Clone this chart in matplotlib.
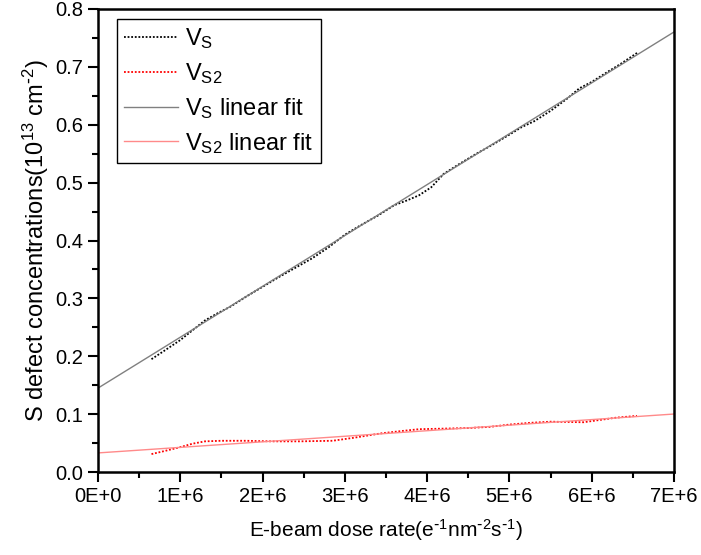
import matplotlib
matplotlib.use("Agg")
import matplotlib.pyplot as plt
import numpy as np
from matplotlib.ticker import MultipleLocator, FixedLocator

plt.rcParams['font.family'] = ['Liberation Sans', 'DejaVu Sans']
plt.rcParams['mathtext.default'] = 'regular'

# data (x in units of 1E+6 e^-1 nm^-2 s^-1)
vs_x = [0.65, 0.8, 1.0, 1.15, 1.3, 1.45, 1.6, 1.8, 2.0, 2.2, 2.4, 2.6, 2.8, 3.0, 3.2,
        3.4, 3.6, 3.75, 3.9, 4.05, 4.2, 4.4, 4.6, 4.8, 5.0, 5.15, 5.3, 5.5, 5.7, 5.85,
        6.0, 6.2, 6.35, 6.55]
vs_y = [0.195, 0.209, 0.228, 0.245, 0.262, 0.274, 0.285, 0.303, 0.320, 0.337, 0.353,
        0.369, 0.388, 0.410, 0.427, 0.443, 0.461, 0.469, 0.478, 0.492, 0.515, 0.533,
        0.550, 0.566, 0.583, 0.596, 0.606, 0.624, 0.645, 0.663, 0.674, 0.692, 0.705,
        0.724]

vs2_x = [0.65, 0.8, 1.0, 1.15, 1.3, 1.5, 1.8, 2.1, 2.45, 2.85, 3.1, 3.45, 3.7, 3.9,
         4.2, 4.5, 4.76, 5.0, 5.25, 5.5, 5.9, 6.1, 6.3, 6.55]
vs2_y = [0.031, 0.036, 0.043, 0.049, 0.053, 0.054, 0.054, 0.053, 0.053, 0.054, 0.059,
         0.067, 0.071, 0.074, 0.075, 0.076, 0.078, 0.082, 0.085, 0.087, 0.086, 0.090,
         0.094, 0.097]

# linear fits: intercept, slope (per 1E+6)
vs_fit = (0.145, 0.0879)
vs2_fit = (0.033, 0.0096)
fit_range = [0.0, 7.0]

xtick_vals = [0, 1, 2, 3, 4, 5, 6, 7]
xtick_labels = ["0E+0", "1E+6", "2E+6", "3E+6", "4E+6", "5E+6", "6E+6", "7E+6"]

fig = plt.figure(figsize=(7.01, 5.55), dpi=100)
ax = fig.add_axes([0.1398, 0.1495, 0.8217, 0.8343])

ax.plot(vs_x, vs_y, linestyle=(0, (1, 1)), color='black', lw=1.3, label='V$_S$')
ax.plot(vs2_x, vs2_y, linestyle=(0, (1, 1)), color='red', lw=1.3, label='V$_{S2}$')
fx = np.array(fit_range)
ax.plot(fx, vs_fit[0] + vs_fit[1] * fx, color='#808080', lw=1.0, label='V$_S$ linear fit')
ax.plot(fx, vs2_fit[0] + vs2_fit[1] * fx, color='#ff8a8a', lw=1.0, label='V$_{S2}$ linear fit')

ax.set_xlim(0, 7)
ax.set_ylim(0, 0.8)
ax.xaxis.set_major_locator(FixedLocator(xtick_vals))
ax.set_xticklabels(xtick_labels)
ax.xaxis.set_minor_locator(MultipleLocator(0.5))
ax.yaxis.set_major_locator(MultipleLocator(0.1))
ax.yaxis.set_minor_locator(MultipleLocator(0.05))
ax.yaxis.set_major_formatter(plt.FormatStrFormatter('%.1f'))

ax.tick_params(which='both', direction='out', top=False, right=False, width=1.5,
               labelsize=14.5, colors='black')
ax.tick_params(which='major', length=7)
ax.tick_params(which='minor', length=4)
for s in ax.spines.values():
    s.set_linewidth(1.8)

ax.set_xlabel('E-beam dose rate(e$^{\\text{-}1}$nm$^{\\text{-}2}$s$^{\\text{-}1}$)',
              fontsize=15, labelpad=8)
ax.set_ylabel('S defect concentrations(10$^{13}$ cm$^{\\text{-}2}$)', fontsize=17, labelpad=3)

leg = ax.legend(loc='upper left', bbox_to_anchor=(0.033, 0.978), fontsize=17,
                frameon=True, fancybox=False, edgecolor='black', framealpha=1,
                handlelength=2.3, handletextpad=0.3, borderpad=0.3, labelspacing=0.42,
                borderaxespad=0)
leg.get_frame().set_linewidth(1.0)

fig.savefig('out.png', dpi=100)
